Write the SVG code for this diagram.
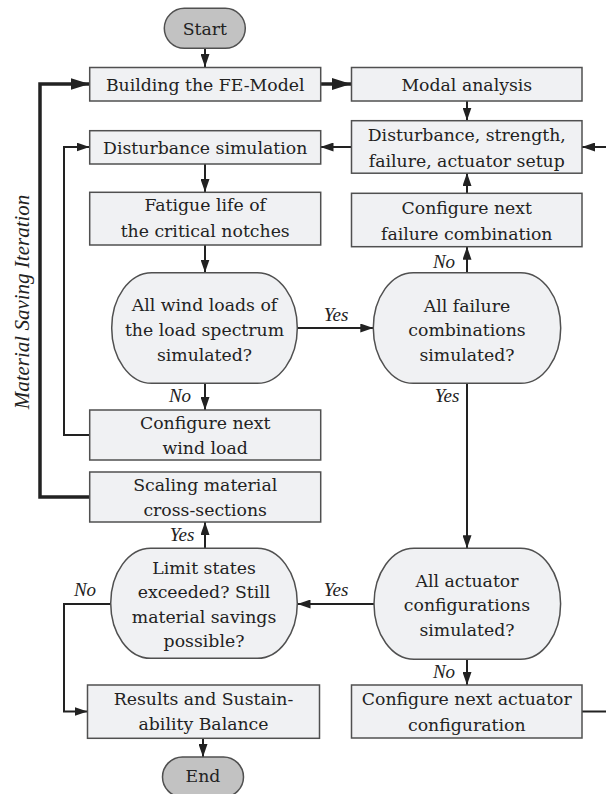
<svg xmlns="http://www.w3.org/2000/svg" width="606" height="794" viewBox="0 0 606 794">
<style>
.box{fill:#f0f1f3;stroke:#505050;stroke-width:1.5}
.term{fill:#c2c2c2;stroke:#505050;stroke-width:1.5}
.t{font-family:"DejaVu Serif","Liberation Serif",serif;font-size:17.3px;fill:#222;text-anchor:middle}
.lab{font-family:"Liberation Serif",serif;font-style:italic;font-size:19px;fill:#222;text-anchor:middle}
.c{fill:none;stroke:#222;stroke-width:2}
.ck{fill:none;stroke:#222;stroke-width:3.5}
</style>
<defs>
<marker id="a" markerUnits="userSpaceOnUse" markerWidth="14" markerHeight="9" refX="13" refY="4.5" orient="auto"><path d="M0,0 L13,4.5 L0,9 z" fill="#222"/></marker>
<marker id="ak" markerUnits="userSpaceOnUse" markerWidth="20" markerHeight="12" refX="19" refY="6" orient="auto"><path d="M0,0 L19,6 L0,12 z" fill="#222"/></marker>
</defs>

<g id="connectors">
<path class="c" d="M205,48.5 V67" marker-end="url(#a)"/>
<path class="ck" d="M320.5,84 H351" marker-end="url(#ak)"/>
<path class="c" d="M467,101 V120.5" marker-end="url(#a)"/>
<path class="c" d="M351,147 H320.5" marker-end="url(#a)"/>
<path class="c" d="M582,711.5 H620 V147 H582" marker-end="url(#a)"/>
<path class="c" d="M205,164 V192" marker-end="url(#a)"/>
<path class="c" d="M205,245 V272.5" marker-end="url(#a)"/>
<path class="c" d="M297.3,328 H373.3" marker-end="url(#a)"/>
<path class="c" d="M467,272.7 V246.7" marker-end="url(#a)"/>
<path class="c" d="M467,193.3 V173" marker-end="url(#a)"/>
<path class="c" d="M205,383.3 V410" marker-end="url(#a)"/>
<path class="c" d="M89.7,435 H64 V147 H89.5" marker-end="url(#a)"/>
<path class="ck" d="M89.7,497 H40 V84 H89.5" marker-end="url(#ak)"/>
<path class="c" d="M467,383.3 V548.3" marker-end="url(#a)"/>
<path class="c" d="M374,604 H297.5" marker-end="url(#a)"/>
<path class="c" d="M205,548.3 V522" marker-end="url(#a)"/>
<path class="c" d="M110.7,604 H64 V711.5 H87.5" marker-end="url(#a)"/>
<path class="c" d="M467,659.5 V685" marker-end="url(#a)"/>
<path class="c" d="M203,738.3 V757" marker-end="url(#a)"/>
</g>

<g id="labels">
<text class="lab" x="336" y="321">Yes</text>
<text class="lab" x="444" y="268">No</text>
<text class="lab" x="447" y="402">Yes</text>
<text class="lab" x="180" y="402">No</text>
<text class="lab" x="182" y="541">Yes</text>
<text class="lab" x="85" y="596">No</text>
<text class="lab" x="336" y="596">Yes</text>
<text class="lab" x="444" y="678">No</text>
<text class="lab" style="font-size:21px" transform="translate(29,302) rotate(-90)" x="0" y="0">Material Saving Iteration</text>
</g>

<g id="start"><rect class="term" x="164.3" y="8.3" width="81" height="40" rx="20" ry="20"/><text class="t" x="204.8" y="34.5">Start</text></g>

<g id="building"><rect class="box" x="89.7" y="67.5" width="231" height="33.5"/><text class="t" x="205.2" y="90.8">Building the FE-Model</text></g>

<g id="modal"><rect class="box" x="351.5" y="67.5" width="230.5" height="33.5"/><text class="t" x="466.8" y="90.8">Modal analysis</text></g>

<g id="setup"><rect class="box" x="351.5" y="120.7" width="230.5" height="52.5"/><text class="t" x="466.8" y="141">Disturbance, strength,</text><text class="t" x="466.8" y="166.5">failure, actuator setup</text></g>

<g id="dist-sim"><rect class="box" x="89.7" y="130.7" width="231" height="33.3"/><text class="t" x="205.2" y="153.8">Disturbance simulation</text></g>

<g id="fatigue"><rect class="box" x="89.7" y="192.3" width="231" height="52.7"/><text class="t" x="205.2" y="211">Fatigue life of</text><text class="t" x="205.2" y="237">the critical notches</text></g>

<g id="cfg-failure"><rect class="box" x="351.5" y="193.3" width="230.5" height="53.4"/><text class="t" x="466.8" y="214">Configure next</text><text class="t" x="466.8" y="239.5">failure combination</text></g>

<g id="dec-wind"><rect class="box" x="111.7" y="272.7" width="185.6" height="110.6" rx="40" ry="55.3"/><text class="t" x="204.5" y="311">All wind loads of</text><text class="t" x="204.5" y="336">the load spectrum</text><text class="t" x="204.5" y="361">simulated?</text></g>

<g id="dec-failure"><rect class="box" x="373.3" y="272.7" width="187.4" height="110.6" rx="40" ry="55.3"/><text class="t" x="467" y="311.5">All failure</text><text class="t" x="467" y="336">combinations</text><text class="t" x="467" y="361">simulated?</text></g>

<g id="cfg-wind"><rect class="box" x="89.7" y="410" width="231" height="50"/><text class="t" x="205.2" y="429">Configure next</text><text class="t" x="205.2" y="454">wind load</text></g>

<g id="scaling"><rect class="box" x="89.7" y="472" width="231" height="50"/><text class="t" x="205.2" y="491">Scaling material</text><text class="t" x="205.2" y="516">cross-sections</text></g>

<g id="dec-limit"><rect class="box" x="110.7" y="548.3" width="186.6" height="110" rx="40" ry="55"/><text class="t" x="204" y="573.5">Limit states</text><text class="t" x="204" y="598">exceeded? Still</text><text class="t" x="204" y="622.5">material savings</text><text class="t" x="204" y="647">possible?</text></g>

<g id="dec-actuator"><rect class="box" x="374" y="548.3" width="186.6" height="111" rx="40" ry="55.5"/><text class="t" x="467" y="586.5">All actuator</text><text class="t" x="467" y="611">configurations</text><text class="t" x="467" y="635.5">simulated?</text></g>

<g id="results"><rect class="box" x="87.5" y="685" width="232" height="53.3"/><text class="t" x="203.5" y="704.5">Results and Sustain-</text><text class="t" x="203.5" y="730">ability Balance</text></g>

<g id="cfg-actuator"><rect class="box" x="351.5" y="685" width="230.5" height="53"/><text class="t" x="466.8" y="705">Configure next actuator</text><text class="t" x="466.8" y="730.5">configuration</text></g>

<g id="end"><rect class="term" x="162.5" y="757" width="81" height="40" rx="20" ry="20"/><text class="t" x="203" y="782">End</text></g>
</svg>
